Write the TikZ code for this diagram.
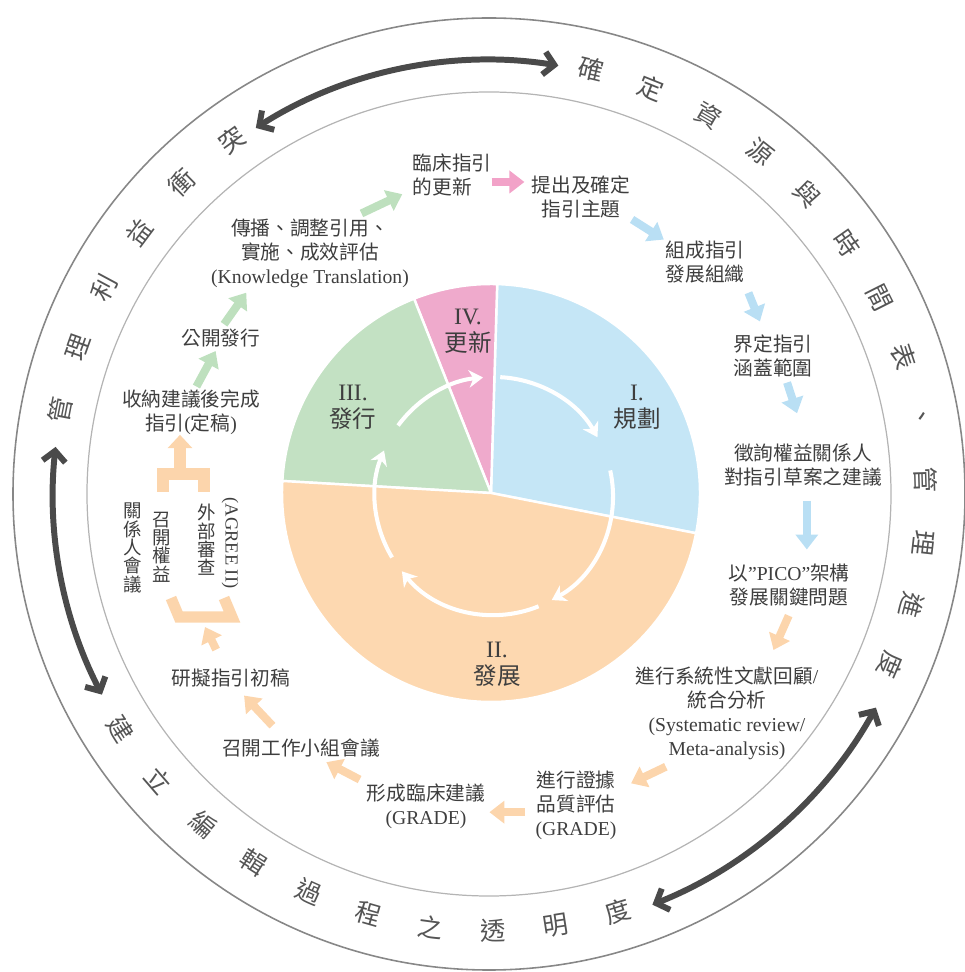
\documentclass[tikz,border=0pt]{standalone}
\usepackage{fontspec}
\setmainfont{Liberation Serif}
\newfontfamily\cjk{Noto Sans CJK TC}
\usetikzlibrary{arrows.meta}

\definecolor{planblue}{RGB}{197,230,246}
\definecolor{devorange}{RGB}{253,216,176}
\definecolor{pubgreen}{RGB}{195,225,195}
\definecolor{updpink}{RGB}{239,170,204}
\definecolor{flowpink}{RGB}{242,162,200}
\definecolor{flowblue}{RGB}{185,223,244}
\definecolor{flowgreen}{RGB}{190,224,190}
\definecolor{floworange}{RGB}{252,213,172}
\definecolor{inkgray}{RGB}{62,62,62}
\definecolor{ringink}{RGB}{85,85,85}
\definecolor{darkarrow}{RGB}{74,74,74}
\definecolor{outerline}{RGB}{135,135,135}
\definecolor{innerline}{RGB}{180,180,180}

\begin{document}
\begin{tikzpicture}[x=0.02cm, y=0.02cm]
    % Define styles
    \tikzset{
        note/.style={font=\cjk\fontsize{11.2}{13.7}\selectfont, text=inkgray, align=center, inner sep=0pt},
        vnote/.style={font=\cjk\fontsize{10.5}{10.4}\selectfont, text=inkgray, align=center, inner sep=0pt},
        phase/.style={font=\fontsize{13.4}{15.5}\selectfont, text=inkgray, align=center, inner sep=0pt},
        ringchar/.style={font=\cjk\fontsize{14.5}{14.5}\selectfont, text=ringink, inner sep=0pt},
        flow/.style={line width=4.6pt, -{Triangle[width=12.5pt,length=8.5pt]}},
        pinkflow/.style={flow, color=flowpink},
        blueflow/.style={flow, color=flowblue},
        greenflow/.style={flow, color=flowgreen},
        orangeflow/.style={flow, color=floworange},
        bracket/.style={draw=floworange, line width=6.3pt},
        bracketflow/.style={color=floworange, line width=6.3pt, -{Triangle[width=13.5pt,length=7.5pt]}},
        sector/.style={draw=white, line width=1.4pt},
        turnarrow/.style={draw=white, line width=2.3pt, -{Stealth[length=8pt,width=10pt,inset=2.5pt]}},
        ringarrow/.style={draw=darkarrow, line width=3.4pt, {Straight Barb[length=6pt,width=13pt]}-{Straight Barb[length=6pt,width=13pt]}}
    }

    \useasboundingbox (-489,-478) rectangle (475,494);

    % Ring
    \draw[outerline, line width=0.9pt] (0,0) circle[radius=476];
    \draw[innerline, line width=0.7pt] (0,0) circle[radius=402];

    % Ring texts
    \foreach \ch [count=\i from 0] in {確,定,資,源,與,時,間,表,、,管,理,進,度}
        \node[ringchar, rotate={76.5-8.3*\i-90}] (rt\i) at ({76.5-8.3*\i}:437) {\ch};
    \foreach \ch [count=\i from 0] in {管,理,利,益,衝,突}
        \node[ringchar, rotate={169-8.6*\i-90}] (rl\i) at ({169-8.6*\i}:437) {\ch};
    \foreach \ch [count=\i from 0] in {建,立,編,輯,過,程,之,透,明,度}
        \node[ringchar, rotate={212.6+8.28*\i+90}] (rb\i) at ({212.6+8.28*\i}:437) {\ch};

    % Ring arrows
    \draw[ringarrow] (122.5:434) arc[start angle=122.5, end angle=80.8, radius=434];
    \draw[ringarrow] (-28.9:442) arc[start angle=-28.9, end angle=-68.3, radius=442];
    \draw[ringarrow] (173.8:436) arc[start angle=173.8, end angle=207.4, radius=436];

    % Pie of the four phases
    \coordinate (pc) at (2,1);
    \filldraw[sector, fill=planblue] (pc) -- ++(-11.1:209) arc[start angle=-11.1, end angle=88.3, radius=209] -- cycle;
    \filldraw[sector, fill=updpink] (pc) -- ++(88.3:209) arc[start angle=88.3, end angle=111.6, radius=209] -- cycle;
    \filldraw[sector, fill=pubgreen] (pc) -- ++(111.6:209) arc[start angle=111.6, end angle=176.7, radius=209] -- cycle;
    \filldraw[sector, fill=devorange] (pc) -- ++(176.7:209) arc[start angle=176.7, end angle=348.9, radius=209] -- cycle;

    % Cycle arrows
    \coordinate (cc) at (5,-2);
    \draw[turnarrow] ([shift={(87:119)}]cc) arc[start angle=87, end angle=29.6, radius=119];
    \draw[turnarrow] ([shift={(12.4:119)}]cc) arc[start angle=12.4, end angle=-61, radius=119];
    \draw[turnarrow] ([shift={(-68:119)}]cc) arc[start angle=-68, end angle=-140.7, radius=119];
    \draw[turnarrow] ([shift={(211.1:119)}]cc) arc[start angle=211.1, end angle=157.5, radius=119];
    \draw[turnarrow] ([shift={(143.7:119)}]cc) arc[start angle=143.7, end angle=95.3, radius=119];

    % Phase labels
    \node[phase] (plan) at (148,87) {I.\\{\cjk 規劃}};
    \node[phase] (dev) at (8,-170) {II.\\{\cjk 發展}};
    \node[phase] (pub) at (-136,87) {III.\\{\cjk 發行}};
    \node[phase] (upd) at (-21,163) {IV.\\{\cjk 更新}};

    % Steps
    \node[note, align=left] (renew) at (-37,319) {臨床指引\\的更新};
    \node[note] (topic) at (92,297) {提出及確定\\指引主題};
    \node[note] (team) at (216,232) {組成指引\\發展組織};
    \node[note] (scope) at (284,138) {界定指引\\涵蓋範圍};
    \node[note] (consult) at (314,29) {徵詢權益關係人\\對指引草案之建議};
    \node[note] (pico) at (300,-91) {以{\rmfamily ”PICO”}架構\\發展關鍵問題};
    \node[note] (sysrev) at (238,-219) {進行系統性文獻回顧{\rmfamily /}\\統合分析\\{\rmfamily (Systematic review/}\\{\rmfamily Meta-analysis)}};
    \node[note] (grade) at (87,-311) {進行證據\\品質評估\\{\rmfamily (GRADE)}};
    \node[note] (recomm) at (-63,-312) {形成臨床建議\\{\rmfamily (GRADE)}};
    \node[note] (meeting) at (-188,-254) {召開工作小組會議};
    \node[note] (draft) at (-258,-184) {研擬指引初稿};
    \node[note] (final) at (-298,82) {收納建議後完成\\指引{\rmfamily (}定稿{\rmfamily )}};
    \node[note] (publish) at (-268,156) {公開發行};
    \node[note] (kt) at (-179,241) {傳播、調整引用、\\實施、成效評估\\{\rmfamily (Knowledge Translation)}};

    % Review columns
    \node[vnote] (stakeA) at (-327,-53) {召\\開\\權\\益};
    \node[vnote] (stakeB) at (-356,-54) {關\\係\\人\\會\\議};
    \node[vnote] (revA) at (-282,-46) {外\\部\\審\\查};
    \node[vnote, font=\rmfamily\fontsize{10.5}{12}\selectfont, rotate=-90] (revB) at (-259,-49) {(AGREE II)};

    % Brackets
    \coordinate (btop) at (-309,20);
    \coordinate (bbot) at (-284,-133);
    \draw[bracket] (-326,2) -- (-326,20) -- (-285,20) -- (-285,2);
    \draw[bracket] (-318,-104) -- (-310,-123) -- (-257,-123) -- (-265,-104);
    \draw[bracketflow] (btop) -- (btop |- final.south);

    % Flow arrows
    \draw[pinkflow, shorten >=4pt] (renew.-10) -- (renew.-10 -| topic.west);
    \draw[blueflow, shorten <=1pt, shorten >=1pt] (topic.south east) -- (team.north west);
    \draw[blueflow, shorten <=5.7pt, shorten >=8pt] (team.south east) -- (scope.110);
    \draw[blueflow, shorten <=3pt, shorten >=18pt] (scope.-60) -- (consult.80);
    \draw[blueflow, shorten <=8pt, shorten >=8pt] (consult.-80) -- (consult.-80 |- pico.north);
    \draw[orangeflow, shorten <=5.7pt, shorten >=10pt] (pico.-80) -- (sysrev.50);
    \draw[orangeflow, shorten <=9pt, shorten >=9pt] (sysrev.-135) -- (grade.20);
    \draw[orangeflow, shorten <=5.7pt, shorten >=2.3pt] (grade.190) -- (grade.190 -| recomm.east);
    \draw[orangeflow, shorten <=4.5pt, shorten >=5.7pt] (recomm.north west) -- (meeting.-30);
    \draw[orangeflow, shorten <=10pt, shorten >=6.3pt] (meeting.150) -- (draft.-60);
    \draw[orangeflow, shorten <=12pt] (draft.120) -- (bbot);
    \draw[greenflow, shorten <=1.7pt, shorten >=2.3pt] (final.80) -- (publish.-110);
    \draw[greenflow, shorten <=3pt, shorten >=3.4pt] (publish.north) -- (kt.-150);
    \draw[greenflow, shorten <=6.3pt, shorten >=6.3pt] (kt.40) -- (renew.200);

\end{tikzpicture}
\end{document}
